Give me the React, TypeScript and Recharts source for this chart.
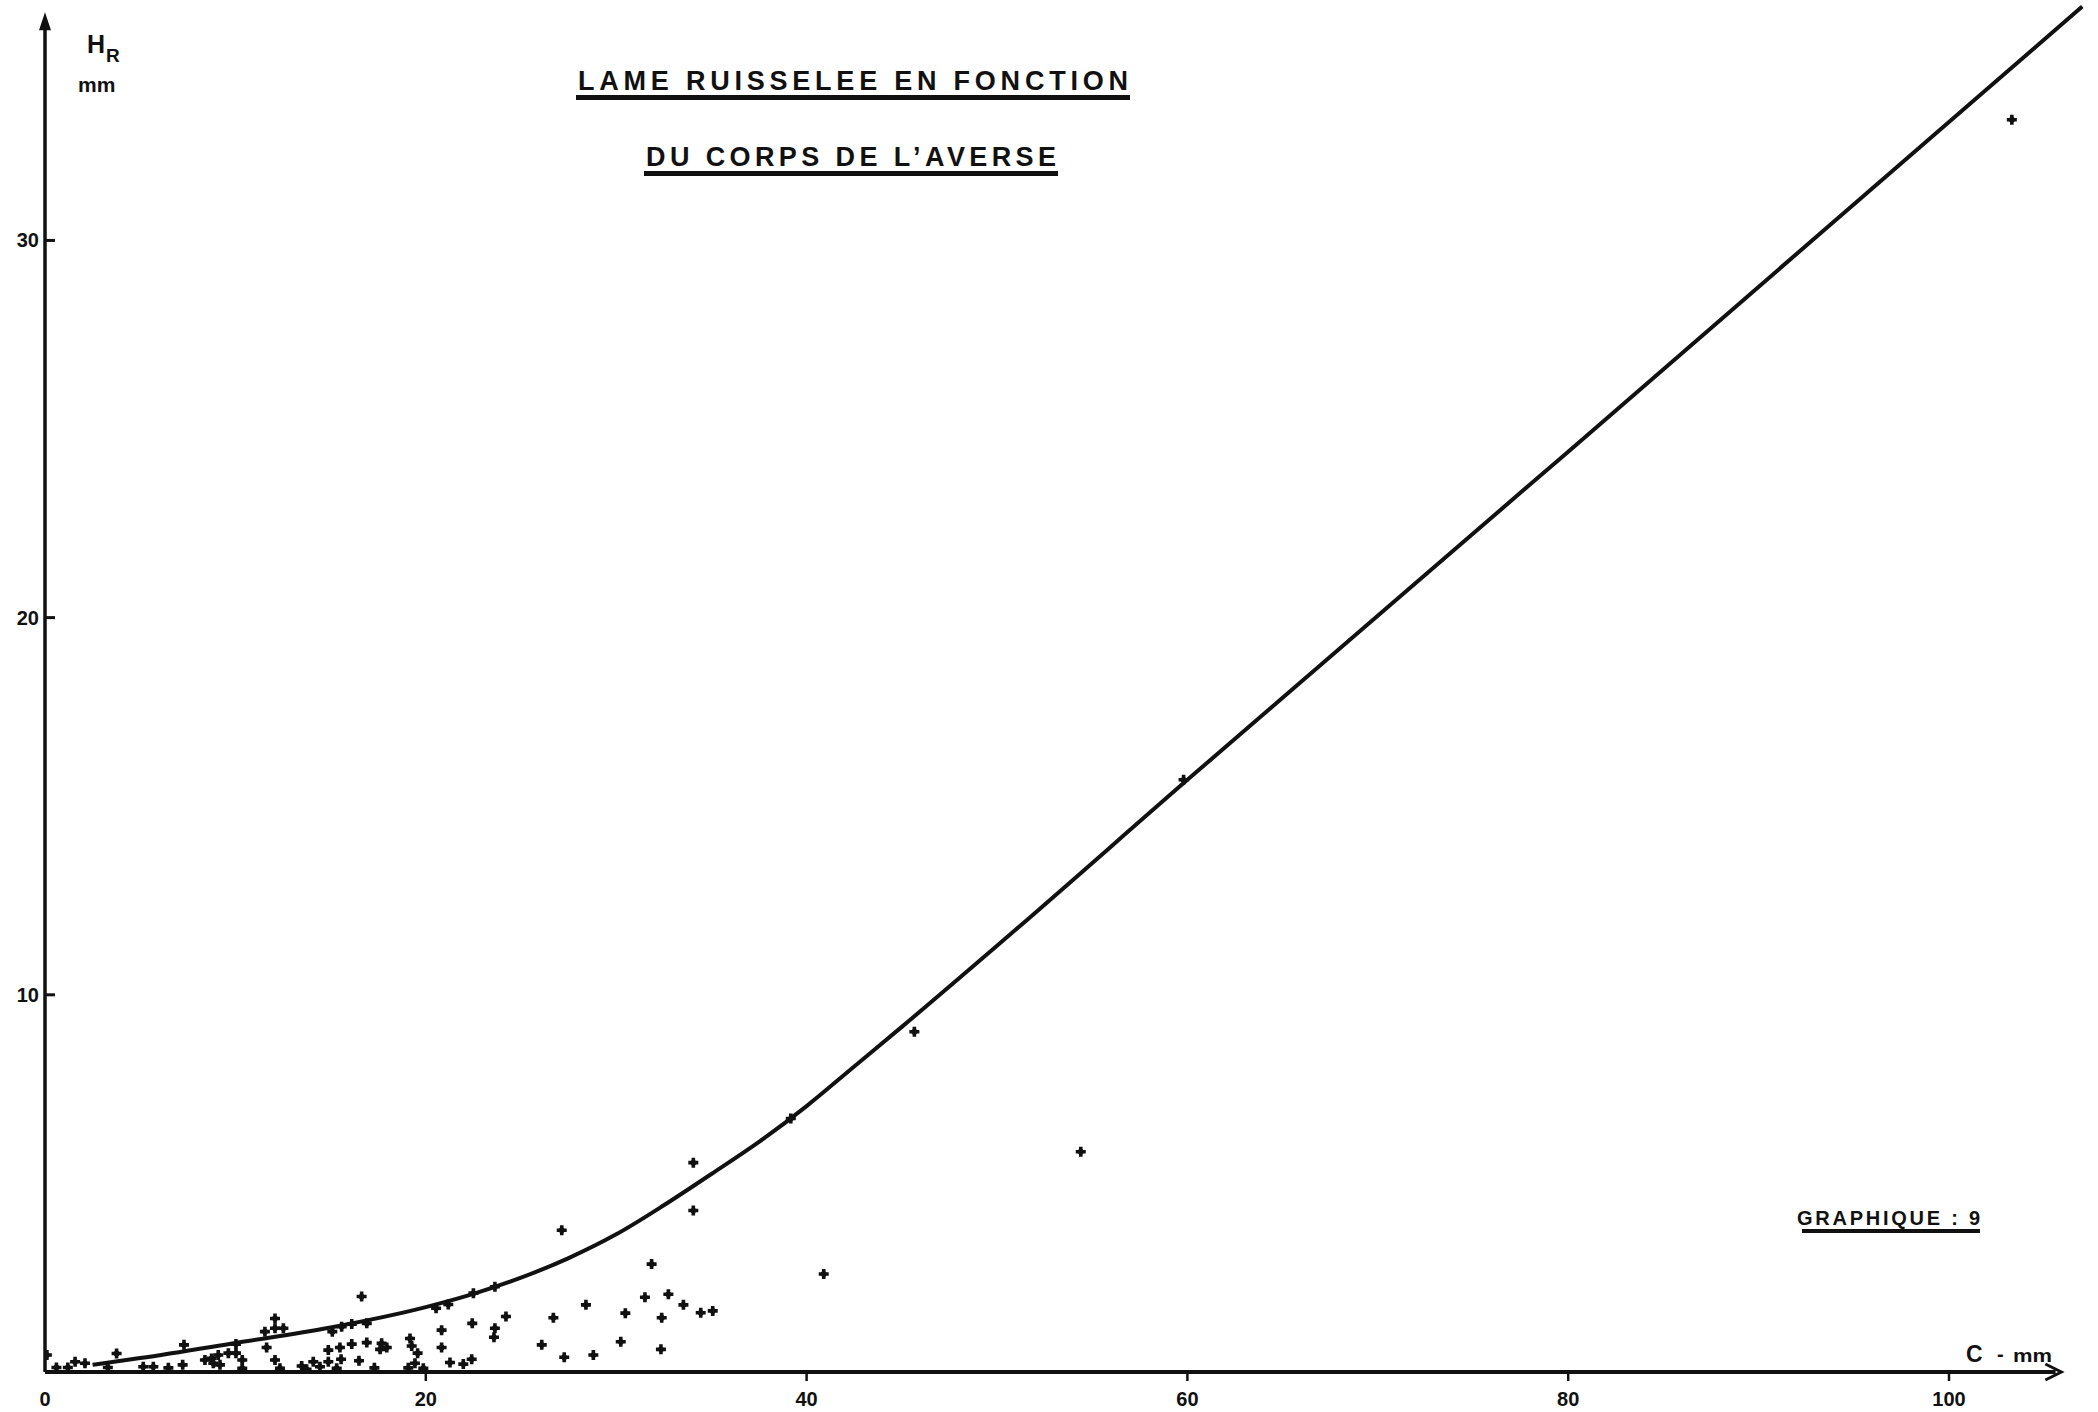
import { ComposedChart, Scatter, Line, XAxis, YAxis, ReferenceLine, ReferenceDot } from 'recharts';

// axis ticks (C in mm, HR in mm)
const xTicks = [0, 20, 40, 60, 80, 100];
const yTicks = [10, 20, 30];

// axis extents, arrow tips included
const X_MAX = 107.5;
const Y_MAX = 36.3;
const X_ARROW = 105.9;
const Y_ARROW = 36.05;

// fitted runoff curve HR = f(C)
const curveC = [2.5, 5, 10, 15, 20, 22.5, 25, 27.5, 30, 32.5, 35, 37.5, 40, 42.5, 45, 50, 60, 80, 107];
const curveH = [0.19, 0.37, 0.77, 1.18, 1.72, 2.07, 2.5, 3.02, 3.65, 4.42, 5.25, 6.1, 7.05, 8.1, 9.15, 11.3, 15.7, 24.4, 36.2];

// observed storms: rainfall body C vs runoff depth HR
const obsC = [
  0.1, 0.6, 1.2, 1.58, 2.1, 3.3, 3.76, 5.16, 5.69, 6.48, 7.23, 7.3, 8.4, 8.75, 9.1, 8.84, 9.19, 9.63, 10.03, 10.03, 10.36, 10.36,
  11.55, 11.64, 12.08, 12.08, 12.52, 12.08, 12.34, 13.48, 13.74, 14.09, 14.44, 14.88, 14.88, 15.32, 15.49, 15.55, 15.09, 15.58,
  16.11, 16.11, 16.49, 16.63, 16.9, 16.9, 17.3, 17.68, 17.6, 17.95, 19.08, 19.17, 19.26, 19.57, 19.43, 19.87, 20.54, 21.18,
  20.83, 20.83, 21.27, 21.97, 22.41, 22.44, 22.5, 23.63, 23.63, 23.58, 24.21, 27.14, 26.09, 26.7, 27.27, 28.41, 28.8, 30.24,
  30.48, 31.51, 31.86, 32.39, 32.35, 32.74, 33.53, 34.05, 34.05, 34.44, 35.07, 39.17, 40.9, 45.66, 54.4, 59.8, 103.3,
];
const obsH = [
  0.45, 0.12, 0.12, 0.27, 0.23, 0.12, 0.49, 0.14, 0.14, 0.11, 0.19, 0.72, 0.32, 0.36, 0.45, 0.23, 0.19, 0.5, 0.74, 0.5, 0.32, 0.1,
  1.07, 0.65, 1.42, 1.16, 1.16, 0.32, 0.1, 0.16, 0.07, 0.27, 0.14, 0.58, 0.27, 0.1, 0.65, 0.34, 1.07, 1.2,
  1.27, 0.74, 0.3, 2.0, 1.29, 0.78, 0.11, 0.76, 0.6, 0.65, 0.11, 0.89, 0.69, 0.5, 0.23, 0.1, 1.69, 1.79,
  1.11, 0.65, 0.25, 0.21, 0.34, 1.29, 2.09, 2.26, 1.16, 0.92, 1.47, 3.76, 0.72, 1.44, 0.39, 1.78, 0.45, 0.8,
  1.56, 1.98, 2.86, 1.44, 0.6, 2.06, 1.78, 5.55, 4.28, 1.57, 1.62, 6.72, 2.6, 9.02, 5.84, 15.7, 33.2,
];

const curve = curveC.map((c, i) => ({ c, h: curveH[i] }));
const storms = obsC.map((c, i) => ({ c, h: obsH[i] }));

const INK = '#111';
const FONT = '"Liberation Sans", Arial, sans-serif';

// small filled cross used as the plotting symbol
const CrossMark = (props: any) => {
  const { cx, cy } = props;
  if (cx == null || cy == null) return null;
  const a = 1.8;
  const b = 5;
  return (
    <g fill={INK}>
      <path
        d={`M${cx - a},${cy - b}H${cx + a}V${cy - a}H${cx + b}V${cy + a}H${cx + a}V${cy + b}H${cx - a}V${cy + a}H${cx - b}V${cy - a}H${cx - a}Z`}
      />
      <circle cx={cx} cy={cy} r={2.9} />
    </g>
  );
};

const XTick = (props: any) => {
  const { x, y, payload } = props;
  return (
    <g>
      {payload.value !== 0 && <line x1={x} x2={x} y1={y} y2={y + 9} stroke={INK} strokeWidth={2.5} />}
      <text x={x} y={y + 34} textAnchor="middle" fontFamily={FONT} fontWeight="bold" fontSize={20} fill={INK}>
        {payload.value}
      </text>
    </g>
  );
};

const YTick = (props: any) => {
  const { x, y, payload } = props;
  return (
    <g>
      <line x1={x} x2={x + 10} y1={y} y2={y} stroke={INK} strokeWidth={3} />
      <text x={x - 6} y={y + 7} textAnchor="end" fontFamily={FONT} fontWeight="bold" fontSize={20} fill={INK}>
        {payload.value}
      </text>
    </g>
  );
};

const UpArrow = (props: any) => {
  const { cx, cy } = props;
  return <polygon points={`${cx},${cy} ${cx - 6},${cy + 18} ${cx + 6},${cy + 18}`} fill={INK} />;
};

const RightArrow = (props: any) => {
  const { cx, cy } = props;
  return (
    <g fill="none" stroke={INK} strokeWidth={3} strokeLinejoin="miter">
      <polyline points={`${cx - 16},${cy - 8} ${cx},${cy} ${cx - 16},${cy + 8}`} />
    </g>
  );
};

export default function App() {
  return (
    <div style={{ position: 'absolute', left: 0, top: 0, width: 2098, height: 1412, background: '#fff' }}>
      <ComposedChart width={2098} height={1412} margin={{ top: 2.8, right: 6.2, left: 0, bottom: 0 }}>
        <XAxis
          dataKey="c"
          type="number"
          domain={[0, X_MAX]}
          allowDataOverflow
          ticks={xTicks}
          axisLine={false}
          tickLine={false}
          tickSize={0}
          tickMargin={0}
          height={40}
          tick={<XTick />}
          interval={0}
        />
        <YAxis
          dataKey="h"
          type="number"
          domain={[0, Y_MAX]}
          allowDataOverflow
          ticks={yTicks}
          axisLine={false}
          tickLine={false}
          tickSize={0}
          tickMargin={0}
          width={45}
          tick={<YTick />}
          interval={0}
        />
        <ReferenceLine segment={[{ x: 0, y: 0 }, { x: X_ARROW - 0.3, y: 0 }]} stroke={INK} strokeWidth={4} ifOverflow="visible" />
        <ReferenceLine segment={[{ x: 0, y: 0 }, { x: 0, y: Y_ARROW - 0.3 }]} stroke={INK} strokeWidth={3.5} ifOverflow="visible" />
        <ReferenceDot x={X_ARROW} y={0} shape={<RightArrow />} ifOverflow="visible" />
        <ReferenceDot x={0} y={Y_ARROW} shape={<UpArrow />} ifOverflow="visible" />
        <Line
          data={curve}
          dataKey="h"
          type="monotone"
          stroke={INK}
          strokeWidth={4}
          dot={false}
          activeDot={false}
          isAnimationActive={false}
        />
        <Scatter data={storms} dataKey="h" shape={<CrossMark />} isAnimationActive={false} />
      </ComposedChart>

      <svg width={2098} height={1412} style={{ position: 'absolute', left: 0, top: 0, pointerEvents: 'none' }}>
        <g fontFamily={FONT} fontWeight="bold" fill={INK}>
          <text x={578} y={90} fontSize={27} textLength={550} lengthAdjust="spacing">
            LAME RUISSELEE EN FONCTION
          </text>
          <rect x={576} y={95} width={554} height={5} />
          <text x={646} y={166} fontSize={27} textLength={410} lengthAdjust="spacing">
            DU CORPS DE L’AVERSE
          </text>
          <rect x={644} y={171} width={414} height={5} />

          <text x={87} y={53} fontSize={25}>H</text>
          <text x={106} y={62} fontSize={19}>R</text>
          <text x={78} y={92} fontSize={21}>mm</text>

          <text x={1966} y={1362} fontSize={23}>C</text>
          <text x={1997} y={1361} fontSize={20}>-</text>
          <text x={2013} y={1362} fontSize={19} textLength={39} lengthAdjust="spacingAndGlyphs">mm</text>

          <text x={1797} y={1225} fontSize={20} textLength={183} lengthAdjust="spacing">
            GRAPHIQUE : 9
          </text>
          <rect x={1802} y={1229} width={178} height={4} />
        </g>
      </svg>
    </div>
  );
}
